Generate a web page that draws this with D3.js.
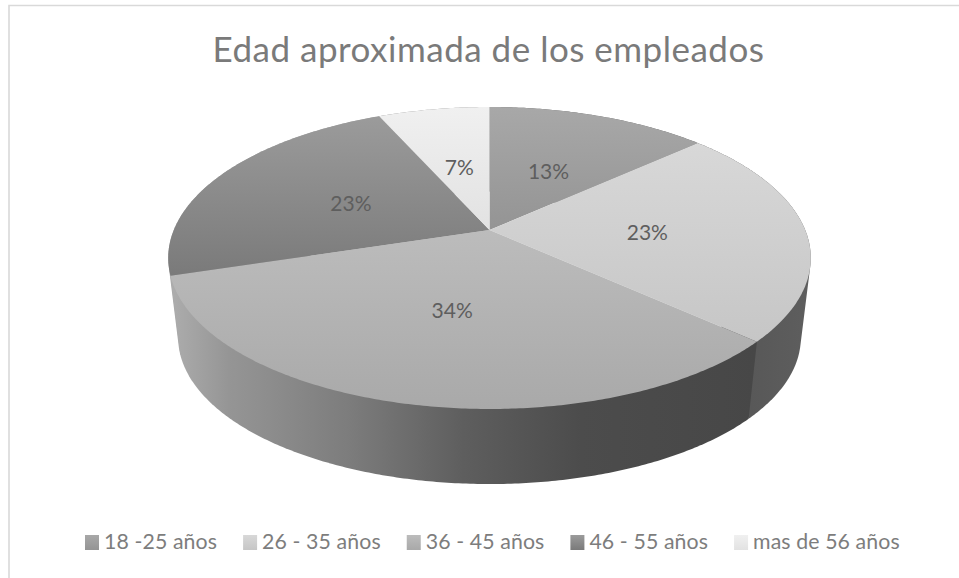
<!DOCTYPE html>
<html><head><meta charset="utf-8">
<script src="https://cdn.jsdelivr.net/npm/d3@7/dist/d3.min.js"></script>
<style>html,body{margin:0;padding:0;background:#fff}svg{display:block}text{font-family:Lato,"Open Sans",sans-serif}</style>
</head><body><svg id="c" width="959" height="578"></svg>
<script>
const title = "Edad aproximada de los empleados";
const categories = ["18 -25 años","26 - 35 años","36 - 45 años","46 - 55 años","mas de 56 años"];
const values = [13.3,23.4,33.5,23.1,6.7];
const topColors = [["#a8a8a8","#949494"],["#d8d8d8","#c6c6c6"],["#bcbcbc","#a9a9a9"],["#9b9b9b","#7a7a7a"],["#f0f0f0","#e2e2e2"]];
const sideStops = [
  [[0,"#606060"],[1,"#606060"]],
  [[0,"#525252"],[1,"#5e5e5e"]],
  [[0,"#adadad"],[0.1,"#959595"],[0.3,"#7d7d7d"],[0.5,"#5e5e5e"],[0.7,"#4c4c4c"],[1,"#474747"]],
  [[0,"#a8a8a8"],[1,"#a8a8a8"]],
  [[0,"#808080"],[1,"#808080"]]
];
const W=959,H=578,svg=d3.select("#c");
const defs=svg.append("defs");
const k=0.1854, A=315.7, B=145.8, cx=489.5, cy=230;
const fmt=d3.format(".0%"), total=d3.sum(values);
const sx=d3.scaleLinear().domain([-1,1]).range([cx-A,cx+A]);
const sy=d3.scaleLinear().domain([-1,1]).range([cy-B,cy+B]);
// perspective projection of a point on the pie disc
function proj(a,r=1,s=1,oy=0){
  const h=Math.sin(a)*r,d=-Math.cos(a)*r,w=1-k*d;
  return [cx+(sx(h)-cx)*s/w, cy+oy+(sy(d)-cy)*s/w];
}
const depthScale=0.969, depthY=80.6;
const arcs=d3.pie().sort(null)(values);
function rim(a0,a1,s,oy){
  const n=Math.max(2,Math.ceil((a1-a0)/0.01));
  return d3.range(n+1).map(i=>proj(a0+(a1-a0)*i/n,1,s,oy));
}
const line=d3.line();
svg.append("path").attr("d","M9,578V5.5H959").attr("fill","none").attr("stroke","#d9d9d9").attr("stroke-width",1.6);
svg.append("text").attr("x",488.5).attr("y",62).attr("text-anchor","middle").attr("font-size",35).attr("letter-spacing",0.5).attr("fill","#7a7a7a").text(title);

function vgrad(id,c,y0,y1){
  const g=defs.append("linearGradient").attr("id",id).attr("gradientUnits","userSpaceOnUse").attr("x1",0).attr("x2",0).attr("y1",y0).attr("y2",y1);
  g.append("stop").attr("offset",0).attr("stop-color",c[0]);
  g.append("stop").attr("offset",1).attr("stop-color",c[1]);
}
// walls: swept hull of each slice, painted back to front
[3,4,0,1,2].forEach(i=>{
  const a=arcs[i], t=rim(a.startAngle,a.endAngle,1,0), b=rim(a.startAngle,a.endAngle,depthScale,depthY);
  const all=t.concat(b), xs=all.map(p=>p[0]);
  const g=defs.append("linearGradient").attr("id","side"+i).attr("gradientUnits","userSpaceOnUse")
    .attr("x1",d3.min(xs)).attr("x2",d3.max(xs)).attr("y1",0).attr("y2",0);
  sideStops[i].forEach(s=>g.append("stop").attr("offset",s[0]).attr("stop-color",s[1]));
  svg.append("path").attr("d",line(d3.polygonHull(all))+"Z").attr("fill",`url(#side${i})`);
});
// top faces
arcs.forEach((a,i)=>{
  const pts=rim(a.startAngle,a.endAngle,1,0);
  const ys=pts.map(p=>p[1]).concat([cy]);
  vgrad("top"+i,topColors[i],d3.min(ys),d3.max(ys));
  svg.append("path").attr("d",line([[cx,cy],...pts])+"Z").attr("fill",`url(#top${i})`);
});
// labels
arcs.forEach((a,i)=>{
  const p=proj((a.startAngle+a.endAngle)/2,0.5);
  svg.append("text").attr("x",p[0]).attr("y",p[1]+10).attr("text-anchor","middle").attr("font-size",21).attr("fill","#5e5e5e").text(fmt(values[i]/total));
});
// legend
let x=85;
categories.forEach((c,i)=>{
  vgrad("leg"+i,topColors[i],535,550);
  svg.append("rect").attr("x",x).attr("y",535).attr("width",14).attr("height",15).attr("fill",`url(#leg${i})`);
  const t=svg.append("text").attr("x",x+19).attr("y",549).attr("font-size",21.3).attr("letter-spacing",0.1).attr("fill","#7d7d7d").text(c);
  x+=19+t.node().getComputedTextLength()+26;
});
</script></body></html>
